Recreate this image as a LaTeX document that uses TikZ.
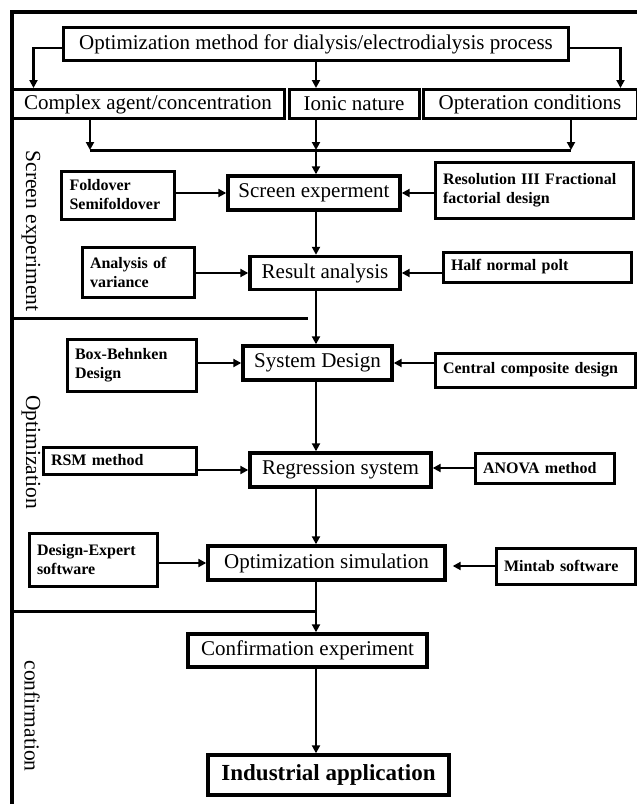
\documentclass[tikz,border=0pt]{standalone}
\usepackage{fontspec}
\setmainfont{Liberation Serif}
\usetikzlibrary{arrows.meta}
\begin{document}
\begin{tikzpicture}[x=1pt,y=-1pt]
\tikzstyle{stage}=[draw,line width=3.4pt,inner sep=2pt,font=\fontsize{21}{23}\selectfont]
\tikzstyle{factor}=[draw,line width=3pt,inner sep=2pt,font=\fontsize{21}{23}\selectfont]
\tikzstyle{tool}=[draw,line width=3pt,align=left,inner xsep=8pt,inner ysep=4pt,font=\bfseries\fontsize{16}{19}\selectfont]
\tikzstyle{flow}=[draw,line width=2.6pt,-{Triangle[length=8pt,width=8pt]}]
\tikzstyle{rule}=[draw,line width=3pt]
\tikzstyle{phase}=[rotate=-90,font=\fontsize{21.5}{24}\selectfont]
\useasboundingbox (0,0) rectangle (637,804);
% outer frame and phase separators
\draw[line width=4.5pt] (12,812) -- (12,12) -- (645,12);
\draw[rule] (12,318) -- (308,318);
\coordinate (spine) at (316,0);
% top of the chart
\node[stage,minimum width=505pt,minimum height=33pt] (method) at (316,44) {Optimization method for dialysis/electrodialysis process};
\node[factor,minimum width=272pt,minimum height=29pt] (agent) at (148,104) {Complex agent/concentration};
\node[factor,minimum width=130pt,minimum height=29pt] (ionic) at (354,104) {Ionic nature};
\node[factor,minimum width=214pt,minimum height=29pt] (conditions) at (530,104) {Opteration conditions};
\coordinate (j1) at (90,150);
\coordinate (j2) at (571,150);
\coordinate (hub) at (316,150);
\path[flow] ([yshift=-4pt]method.west) -| ([xshift=23pt]agent.north west);
\path[flow] ([yshift=-4pt]method.east) -| ([xshift=-18pt]conditions.north east);
\path[flow] (method.south -| spine) -- (ionic.north -| spine);
\path[flow] (agent.south -| j1) -- (j1);
\path[flow] (conditions.south -| j2) -- (j2);
\path[flow] (ionic.south -| spine) -- (hub);
\path[rule] (j1) -- (j2);
% screen experiment
\node[stage,minimum width=172pt,minimum height=34pt] (screen) at (314,193) {Screen experment};
\node[tool,text width=97pt,minimum height=48pt] (foldover) at (118,195) {Foldover\\Semifoldover};
\node[tool,text width=182pt,minimum height=56pt] (resolution) at (534,190) {Resolution III Fractional\\factorial design};
\node[stage,minimum width=150pt,minimum height=33pt] (result) at (325,273) {Result analysis};
\node[tool,text width=96pt,minimum height=50pt] (variance) at (138,272) {Analysis of\\variance};
\node[tool,text width=172pt,minimum height=30pt] (halfnormal) at (537,267) {Half normal polt};
\path[flow] (hub) -- (screen.north -| spine);
\path[flow] (foldover.east |- screen) -- (screen.west);
\path[flow] (resolution.west |- screen) -- (screen.east);
\path[flow] (screen.south -| spine) -- (result.north -| spine);
\path[flow] (variance.east |- result) -- (result.west);
\path[flow] (halfnormal.west |- result) -- (result.east);
% optimization
\node[stage,minimum width=149pt,minimum height=34pt] (system) at (317.5,363) {System Design};
\node[tool,text width=113pt,minimum height=52pt] (boxbehnken) at (131.5,365) {Box-Behnken\\Design};
\node[tool,text width=184pt,minimum height=34pt] (central) at (535,370) {Central composite design};
\node[stage,minimum width=181pt,minimum height=34pt] (regression) at (340.5,470) {Regression system};
\node[tool,text width=137pt,minimum height=27pt] (rsm) at (119.5,460.5) {RSM method};
\node[tool,text width=123pt,minimum height=30pt] (anova) at (544.5,468) {ANOVA method};
\node[stage,minimum width=237pt,minimum height=34pt] (simulation) at (326.5,563) {Optimization simulation};
\node[tool,text width=112pt,minimum height=53pt] (designexpert) at (93,559.5) {Design-Expert\\software};
\node[tool,text width=123pt,minimum height=36pt] (mintab) at (565.5,566) {Mintab software};
\path[flow] (result.south -| spine) -- (system.north -| spine);
\path[flow] (boxbehnken.east |- system) -- (system.west);
\path[flow] (central.west |- system) -- (system.east);
\path[flow] (system.south -| spine) -- (regression.north -| spine);
\path[flow] (rsm.east |- regression) -- (regression.west);
\path[flow] (anova.west) -- (anova.west -| regression.east);
\path[flow] (regression.south -| spine) -- (simulation.north -| spine);
\path[flow] (designexpert.east |- simulation) -- (simulation.west);
\path[flow] (mintab.west) -- ([xshift=6pt]mintab.west -| simulation.east);
% confirmation
\node[stage,minimum width=239pt,minimum height=33pt] (confirm) at (307.5,650.5) {Confirmation experiment};
\node[stage,minimum width=241pt,minimum height=40pt,font=\bfseries\fontsize{23}{25}\selectfont] (industry) at (328.5,775) {Industrial application};
\coordinate (split) at (316,611);
\path[rule] (12,611) -- (split);
\path[flow] (simulation.south -| spine) -- (confirm.north -| spine);
\path[flow] (confirm.south -| spine) -- (industry.north -| spine);
% phase labels
\node[phase] (screenlabel) at (31,231) {Screen experiment};
\node[phase] (optlabel) at (31,452) {Optimization};
\node[phase] (confirmlabel) at (32,716) {confirmation};
\end{tikzpicture}
\end{document}
